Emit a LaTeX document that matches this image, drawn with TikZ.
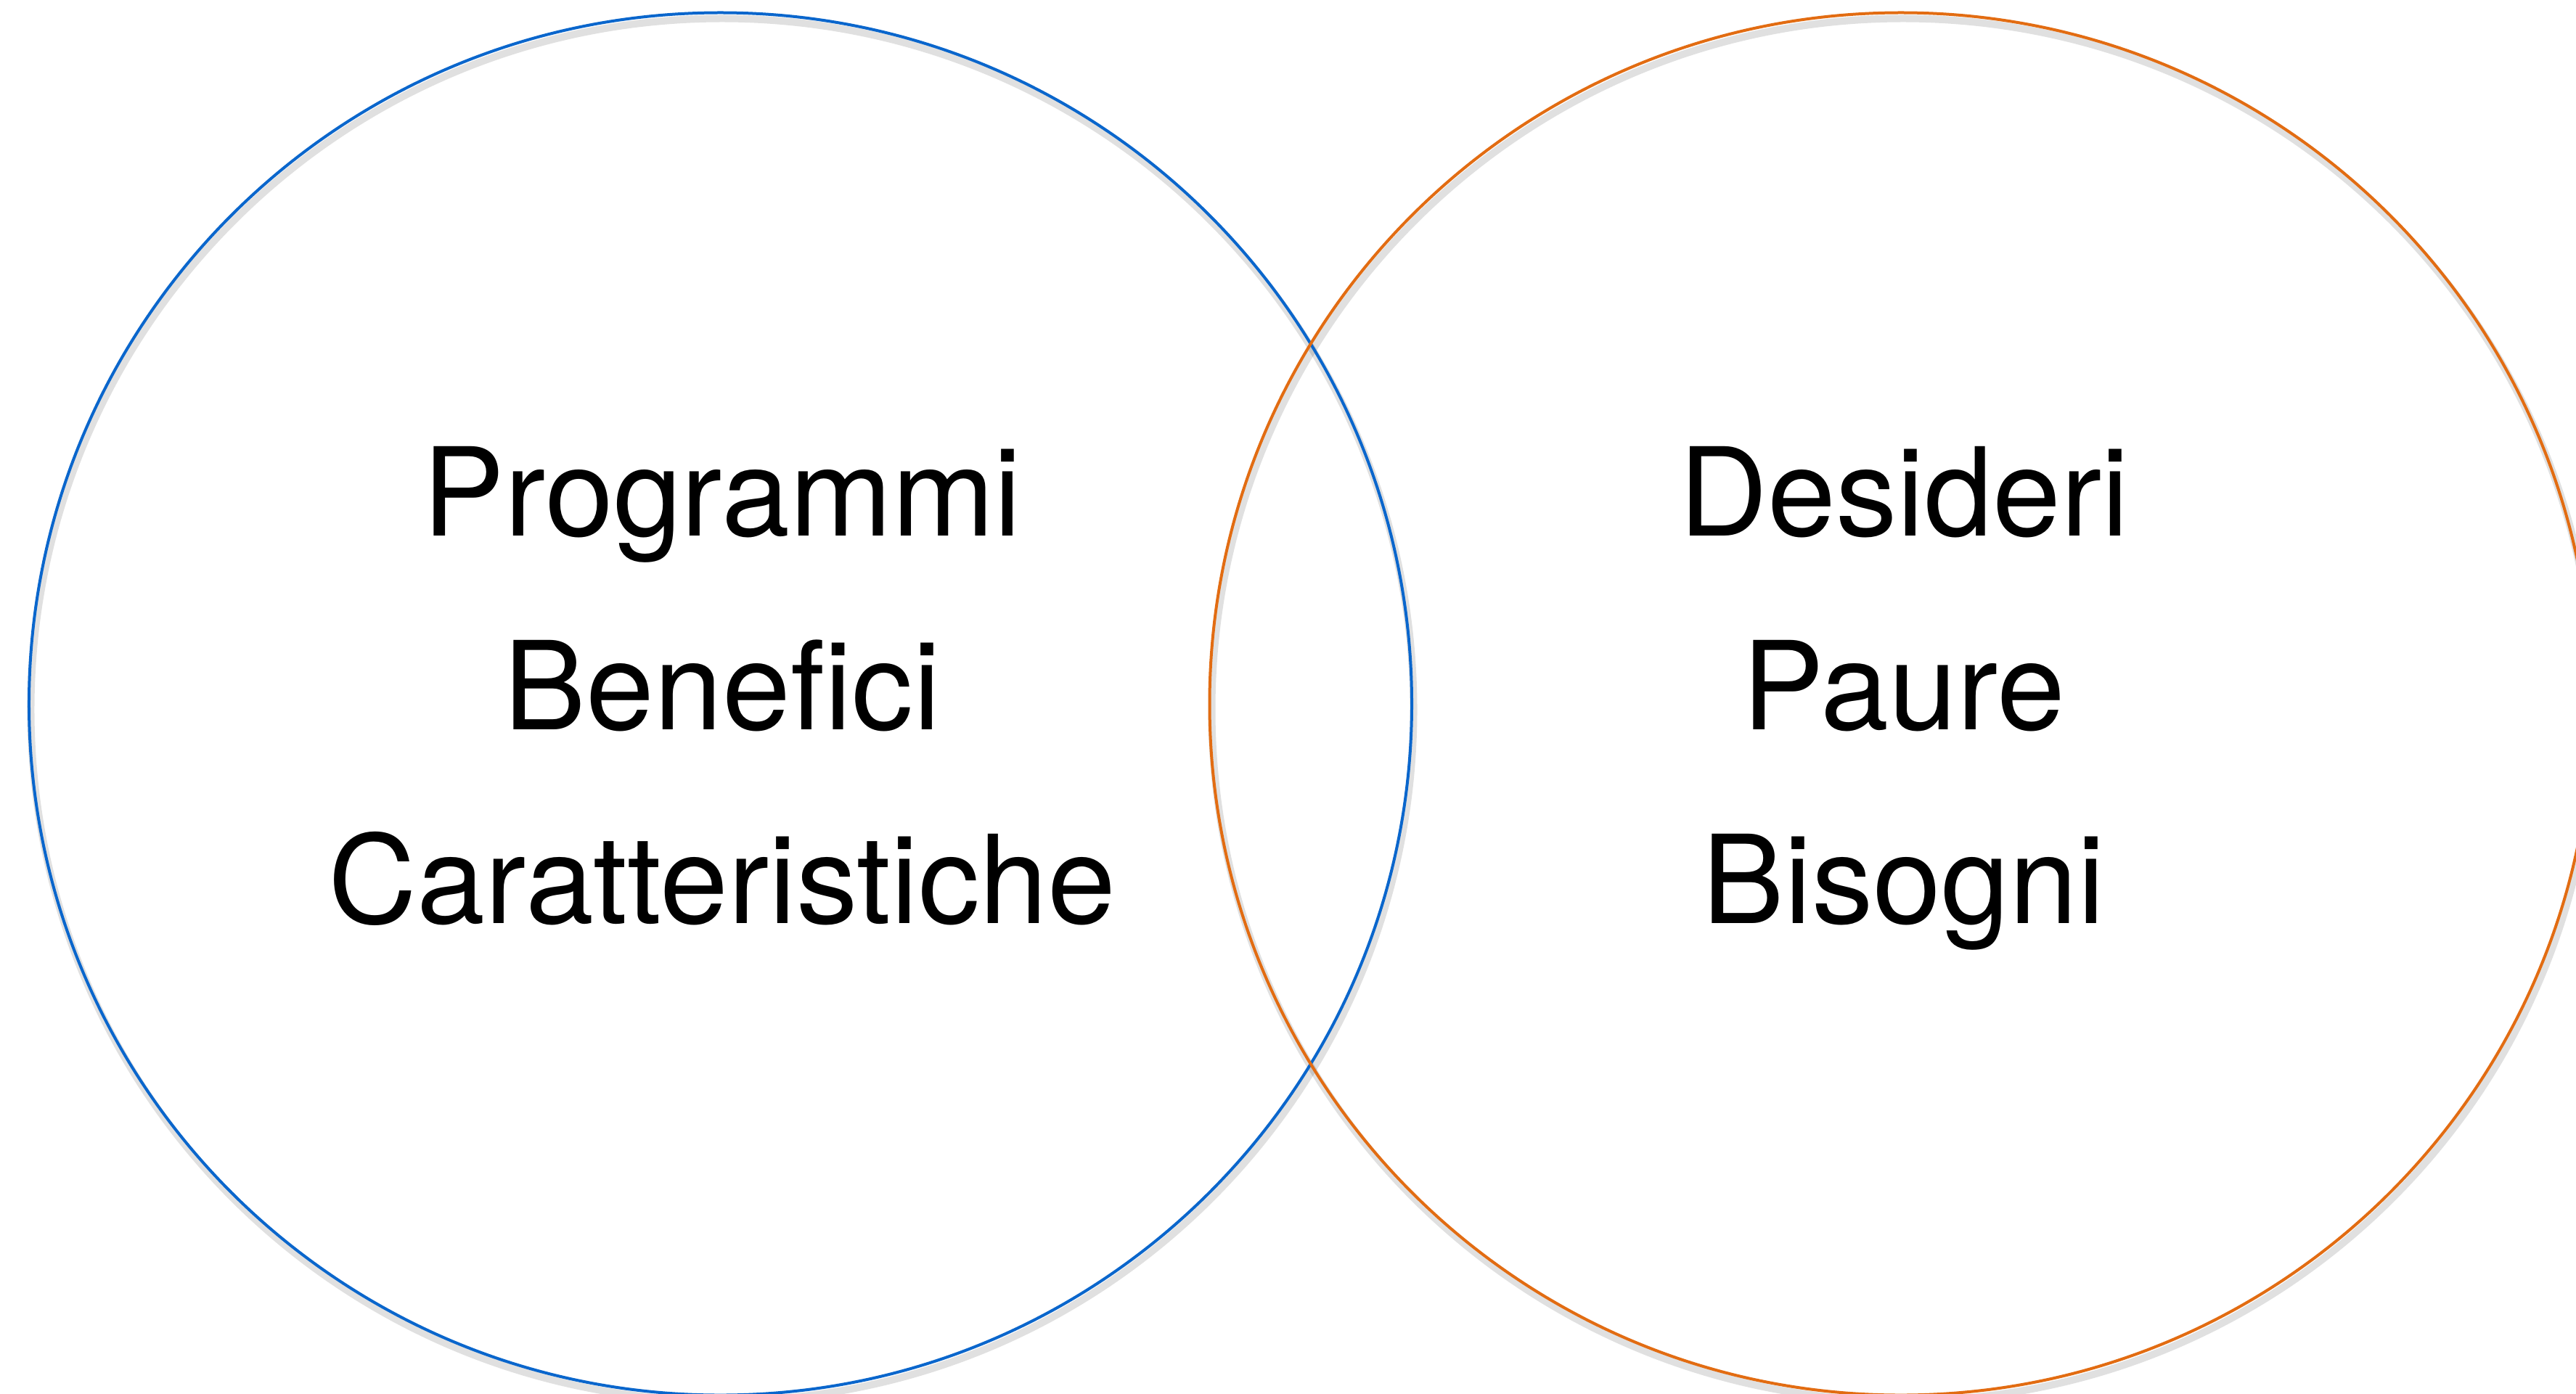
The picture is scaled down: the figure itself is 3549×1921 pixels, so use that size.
\documentclass[tikz,border=0pt]{standalone}
\usepackage{fontspec}
\setmainfont{TeX Gyre Heros}
\definecolor{vblue}{RGB}{10,102,204}
\definecolor{vorange}{RGB}{226,108,18}
\begin{document}
\begin{tikzpicture}[x=0.2pt,y=-0.2pt,
  ring/.style={circle,draw,line width=0.8pt,minimum size=381pt,inner sep=0pt},
  ringshadow/.style={circle,draw=black,draw opacity=0.12,line width=2pt,minimum size=381pt,inner sep=0pt},
  word/.style={anchor=base,inner sep=0pt,font=\fontsize{33.8pt}{40pt}\selectfont,text=black}]
\useasboundingbox (0,0) rectangle (3549,1921);
\fill[white] (0,0) rectangle (3549,1921);
% soft shadows of the rings
\node[ringshadow] at (995,978) {};
\node[ringshadow] at (2622,978) {};
% rings
\node[ring,draw=vblue] (left) at (992.5,970) {};
\node[ring,draw=vorange] (right) at (2619,970) {};
% labels
\node[word] (prog) at (995,738) {Programmi};
\node[word] (bene) at (995,1005) {Benefici};
\node[word] (cara) at (995,1272) {Caratteristiche};
\node[word] (desi) at (2623,738) {Desideri};
\node[word] (paur) at (2623,1005) {Paure};
\node[word] (biso) at (2623,1272) {Bisogni};
\end{tikzpicture}
\end{document}
